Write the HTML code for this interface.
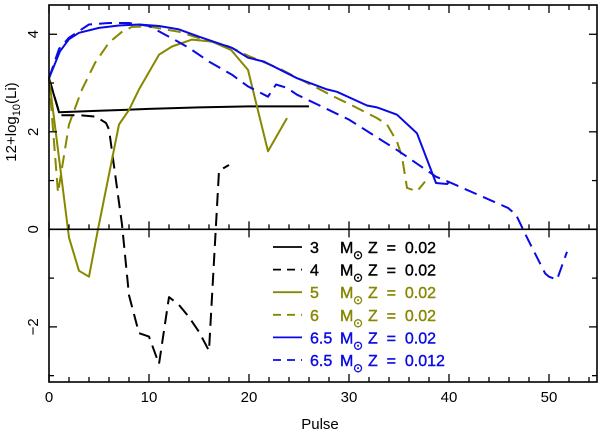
<!DOCTYPE html>
<html><head><meta charset="utf-8"><style>
body{margin:0;background:#fff}
svg{display:block;font-family:"Liberation Sans",sans-serif}
</style></head><body>
<svg id="chart" width="600" height="433" viewBox="0 0 600 433" xmlns="http://www.w3.org/2000/svg">
<rect x="0" y="0" width="600" height="433" fill="#fff"/>
<g id="marks"></g>
<g id="axes"></g>
<text transform="translate(16,122) rotate(-90)" text-anchor="middle" font-size="15">12+log<tspan font-size="11" dy="4">10</tspan><tspan dy="-4">(Li)</tspan></text>
<text x="320" y="429" text-anchor="middle" font-size="15">Pulse</text>
<g id="legend"></g>
</svg>
<script>
const xTicks=[0,10,20,30,40,50];
const yTicks=[4,2,0,-2];
const s3x=[0,1,5,10,15,20,26];
const s3y=[3.1,2.4,2.43,2.47,2.5,2.52,2.52];
const s4x=[0,1.1,3,4.7,5.7,6,7.3,8,9,10,11,12,13,14,15,16,17,18];
const s4y=[3.1,2.34,2.34,2.31,2.18,2.05,0.1,-1.35,-2.13,-2.2,-2.76,-1.39,-1.55,-1.8,-2.1,-2.49,1.2,1.32];
const s5x=[0,2,3,4,4.9,7,8,9,11,12.3,14.3,16.3,18.2,19.9,20.7,21.9,23.8];
const s5y=[3.1,-0.17,-0.85,-0.97,0,2.15,2.45,2.87,3.58,3.75,3.89,3.85,3.68,3.27,2.6,1.6,2.28];
const s6x=[0,0.9,2,3.3,4.6,6,7.3,8.3,10,13,15,18,20,23,26.8,28.5,30.5,32.8,33.8,34.8,35.3,35.8,36.8,37.6];
const s6y=[3.1,0.75,2.15,2.87,3.41,3.83,4.05,4.15,4.16,4.05,3.92,3.75,3.55,3.3,2.9,2.72,2.52,2.28,2.15,1.8,1.49,0.85,0.78,0.98];
const s65x=[0,1.1,2,3,5,7,9,11,13,15,18.3,19.9,21.5,24.8,27.8,28.8,31.8,32.8,34.8,36.8,38.7,39.8,40];
const s65y=[3.1,3.65,3.9,4.03,4.13,4.18,4.2,4.17,4.1,3.95,3.72,3.52,3.44,3.1,2.87,2.82,2.54,2.5,2.35,1.97,0.95,0.93,0.97];
const s65bx=[0,1,2,4,6,8,10,12,14,16,18.3,19.9,21.9,22.7,23.8,24.8,30,35,38.7,40,45.9,46.7,47.8,49.6,50,50.8,51.8];
const s65by=[3.1,3.7,3.93,4.2,4.23,4.23,4.17,3.95,3.72,3.44,3.17,2.93,2.72,2.97,2.9,2.76,2.25,1.6,1.08,0.97,0.44,0.3,-0.17,-0.9,-0.97,-1.03,-0.46];
const legendMass=["3","4","5","6","6.5","6.5"];
const legendZ=["0.02","0.02","0.02","0.02","0.02","0.012"];

const X0=49,X1=597,Y0=5,Y1=382,XMIN=0,XMAX=54.8,YMIN=-3.13,YMAX=4.6;
const sx=v=>X0+(v-XMIN)/(XMAX-XMIN)*(X1-X0);
const sy=v=>Y1-(v-YMIN)/(YMAX-YMIN)*(Y1-Y0);
const NS="http://www.w3.org/2000/svg";
const mk=(t,a,p)=>{const e=document.createElementNS(NS,t);for(const k in a)e.setAttribute(k,a[k]);p.appendChild(e);return e;};
const marks=document.getElementById('marks'),axes=document.getElementById('axes'),leg=document.getElementById('legend');
const OL="#878700",BL="#0a0ae6";
const series=[[s3x,s3y,"#000",null,"series-3msun"],[s4x,s4y,"#000","13,7","series-4msun"],[s5x,s5y,OL,null,"series-5msun"],[s6x,s6y,OL,"13,7","series-6msun"],[s65x,s65y,BL,null,"series-6p5msun-z002"],[s65bx,s65by,BL,"13,7","series-6p5msun-z0012"]];
series.forEach(s=>{
  const d=s[0].map((x,i)=>(i?'L':'M')+sx(x).toFixed(1)+','+sy(s[1][i]).toFixed(1)).join('');
  const a={d:d,fill:'none',stroke:s[2],'stroke-width':2,'stroke-linejoin':'round'};
  if(s[3])a['stroke-dasharray']=s[3];
  const p=mk('path',a,marks);
  
  
});
const fr=mk('rect',{x:X0,y:Y0,width:X1-X0,height:Y1-Y0,fill:'none',stroke:'#000','stroke-width':1.6},axes);


const zl=mk('line',{x1:X0,x2:X1,y1:sy(0),y2:sy(0),stroke:'#000','stroke-width':1.6},axes);


for(let v=0;v<=XMAX;v+=2){
  const maj=v%10===0,L=maj?8:5,x=sx(v);
  mk('line',{x1:x,x2:x,y1:Y1,y2:Y1-L,stroke:'#000','stroke-width':1.3},axes);
  mk('line',{x1:x,x2:x,y1:Y0,y2:Y0+L,stroke:'#000','stroke-width':1.3},axes);
  mk('line',{x1:x,x2:x,y1:sy(0)-L,y2:sy(0)+(maj?L:0),stroke:'#000','stroke-width':1.3},axes);
}
xTicks.forEach(v=>{const t=mk('text',{x:sx(v),y:402,'text-anchor':'middle','font-size':15},axes);t.textContent=v;
  
  });
for(let v=-3;v<=4;v++){
  const maj=v%2===0,L=maj?8:5,y=sy(v);
  mk('line',{x1:X0,x2:X0+L,y1:y,y2:y,stroke:'#000','stroke-width':1.3},axes);
  mk('line',{x1:X1,x2:X1-L,y1:y,y2:y,stroke:'#000','stroke-width':1.3},axes);
}
yTicks.forEach(v=>{const t=mk('text',{transform:`translate(38,${sy(v)}) rotate(-90)`,'text-anchor':'middle','font-size':15},axes);t.textContent=v<0?'\u2212'+(-v):v;
  
  });
legendMass.forEach((m,i)=>{
  const y=247+22.6*i,s=series[i];
  const g=mk('g',{},leg);
  
  
  const a={x1:273,x2:302,y1:y,y2:y,stroke:s[2],'stroke-width':1.8};
  if(s[3])a['stroke-dasharray']='8,6';
  mk('line',a,g);
  const st={'font-size':16,fill:s[2],stroke:s[2],'stroke-width':0.4};
  const t1=mk('text',Object.assign({x:310,y:y+6},st),g);t1.textContent=m;
  const t2=mk('text',Object.assign({x:340,y:y+6},st),g);t2.textContent='M';
  const t3=mk('text',Object.assign({x:353,y:y+12},st,{'font-size':12}),g);t3.textContent='\u2299';
  const t4=mk('text',Object.assign({x:368,y:y+6},st),g);t4.textContent='Z  =  '+legendZ[i];
  t4.setAttribute('xml:space','preserve');t4.style.whiteSpace='pre';
});
</script>
</body></html>
